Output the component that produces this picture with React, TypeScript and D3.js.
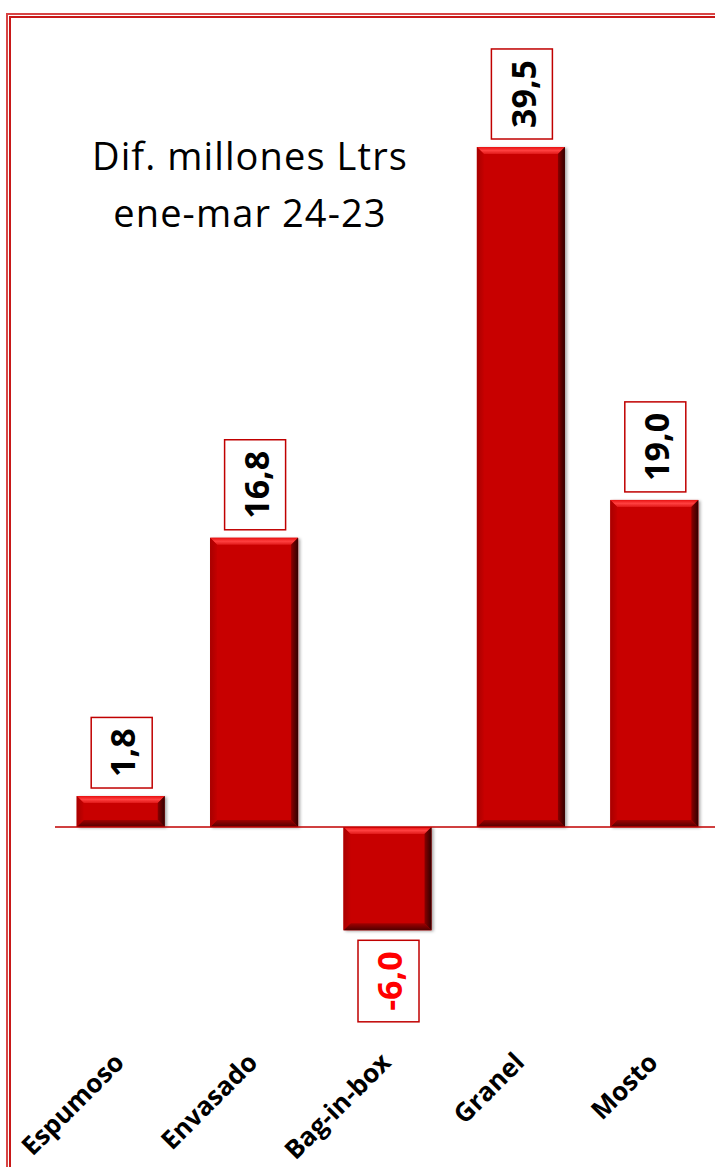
import React, { useEffect, useRef } from "react";
import * as d3 from "d3";

const categories = ["Espumoso", "Envasado", "Bag-in-box", "Granel", "Mosto"];
const values = [1.8, 16.8, -6.0, 39.5, 19.0];
const valueLabels = ["1,8", "16,8", "-6,0", "39,5", "19,0"];
const titleLines = ["Dif. millones Ltrs", "ene-mar 24-23"];

const W = 715;
const H = 1167;

export default function App() {
  const ref = useRef<SVGSVGElement>(null);

  useEffect(() => {
    const svg = d3.select(ref.current);
    svg.selectAll("*").remove();

    const defs = svg.append("defs");
    const f = defs.append("filter").attr("id", "shadow").attr("x", "-20%").attr("y", "-20%").attr("width", "140%").attr("height", "140%");
    f.append("feDropShadow").attr("dx", 2).attr("dy", 1).attr("stdDeviation", 1.5).attr("flood-color", "#000").attr("flood-opacity", 0.35);

    const gTop = defs.append("linearGradient").attr("id", "gTop").attr("x1", 0).attr("y1", 0).attr("x2", 0).attr("y2", 1);
    gTop.append("stop").attr("offset", 0).attr("stop-color", "#e81010");
    gTop.append("stop").attr("offset", 0.5).attr("stop-color", "#ff4040");
    gTop.append("stop").attr("offset", 1).attr("stop-color", "#e01818");
    const gBot = defs.append("linearGradient").attr("id", "gBot").attr("x1", 0).attr("y1", 0).attr("x2", 0).attr("y2", 1);
    gBot.append("stop").attr("offset", 0).attr("stop-color", "#a00000");
    gBot.append("stop").attr("offset", 1).attr("stop-color", "#500000");
    const gRight = defs.append("linearGradient").attr("id", "gRight").attr("x1", 0).attr("y1", 0).attr("x2", 1).attr("y2", 0);
    gRight.append("stop").attr("offset", 0).attr("stop-color", "#8a0000");
    gRight.append("stop").attr("offset", 1).attr("stop-color", "#300000");
    const gLeft = defs.append("linearGradient").attr("id", "gLeft").attr("x1", 0).attr("y1", 0).attr("x2", 1).attr("y2", 0);
    gLeft.append("stop").attr("offset", 0).attr("stop-color", "#a80000");
    gLeft.append("stop").attr("offset", 1).attr("stop-color", "#c40000");

    // border
    svg.append("path").attr("d", `M7,${H + 10} L7,14 L${W + 10},14`).attr("fill", "none").attr("stroke", "#d84444").attr("stroke-width", 2);
    svg.append("path").attr("d", `M10,${H + 10} L10,17 L${W + 10},17`).attr("fill", "none").attr("stroke", "#c81818").attr("stroke-width", 2);

    const x = d3.scaleBand<string>().domain(categories).range([54, 721]).paddingInner(0.34).paddingOuter(0.17);
    const y = d3.scaleLinear().domain([0, 39.5]).range([827, 147]);

    // title
    const title = svg.append("text").attr("x", 250).attr("y", 170).attr("text-anchor", "middle")
      .attr("font-family", "'Open Sans', sans-serif").attr("font-size", 38).attr("letter-spacing", 1.1).attr("fill", "#000");
    titleLines.forEach((t, i) => {
      title.append("tspan").attr("x", 250).attr("dy", i === 0 ? 0 : 57).text(t);
    });

    const bw = x.bandwidth();
    const b = 7;
    categories.forEach((c, i) => {
      const v = values[i];
      const x0 = x(c)!;
      const y0 = Math.min(y(v), y(0));
      const h = Math.abs(y(v) - y(0));
      const g = svg.append("g");
      g.append("rect").attr("x", x0).attr("y", y0).attr("width", bw).attr("height", h).attr("fill", "#c80000").attr("filter", "url(#shadow)");
      const bb = Math.min(b, h / 2);
      g.append("path").attr("d", `M${x0},${y0} L${x0 + bw},${y0} L${x0 + bw - bb},${y0 + bb} L${x0 + bb},${y0 + bb} Z`).attr("fill", "url(#gTop)");
      g.append("path").attr("d", `M${x0},${y0 + h} L${x0 + bw},${y0 + h} L${x0 + bw - bb},${y0 + h - bb} L${x0 + bb},${y0 + h - bb} Z`).attr("fill", "url(#gBot)");
      g.append("path").attr("d", `M${x0},${y0} L${x0 + bb},${y0 + bb} L${x0 + bb},${y0 + h - bb} L${x0},${y0 + h} Z`).attr("fill", "url(#gLeft)");
      g.append("path").attr("d", `M${x0 + bw},${y0} L${x0 + bw - bb},${y0 + bb} L${x0 + bw - bb},${y0 + h - bb} L${x0 + bw},${y0 + h} Z`).attr("fill", "url(#gRight)");
    });

    // zero line
    svg.append("line").attr("x1", 55).attr("x2", W).attr("y1", y(0)).attr("y2", y(0)).attr("stroke", "#c00000").attr("stroke-width", 1.5);

    // value labels
    categories.forEach((c, i) => {
      const v = values[i];
      const cx = x(c)! + bw / 2 + 1;
      const t = svg.append("text")
        .attr("font-family", "'Open Sans', sans-serif").attr("font-weight", 700).attr("font-size", 34)
        .attr("fill", v < 0 ? "#ff0000" : "#000").attr("text-anchor", "middle")
        .attr("dominant-baseline", "central")
        .text(valueLabels[i]);
      const len = (t.node() as SVGTextElement).getComputedTextLength();
      const bh = len + 22;
      const gap = v < 0 ? 10 : 8;
      const cy = v >= 0 ? y(v) - gap - bh / 2 : y(v) + gap + bh / 2;
      t.attr("transform", `translate(${cx},${cy}) rotate(-90)`).attr("dy", "0.02em");
      svg.insert("rect", () => t.node())
        .attr("x", cx - 30.5).attr("y", cy - bh / 2).attr("width", 61).attr("height", bh)
        .attr("fill", "#fff").attr("stroke", "#c00000").attr("stroke-width", 1.5);
    });

    // category labels
    categories.forEach((c) => {
      const cx = x(c)! + bw / 2;
      svg.append("text")
        .attr("transform", `translate(${cx + 5},${1064}) rotate(-45)`)
        .attr("text-anchor", "end")
        .attr("font-family", "'Open Sans', sans-serif").attr("font-weight", 700).attr("font-size", 26)
        .attr("fill", "#000").text(c);
    });
  }, []);

  return (
    <svg ref={ref} width={W} height={H} style={{ position: "absolute", left: 0, top: 0, background: "#fff" }} />
  );
}
